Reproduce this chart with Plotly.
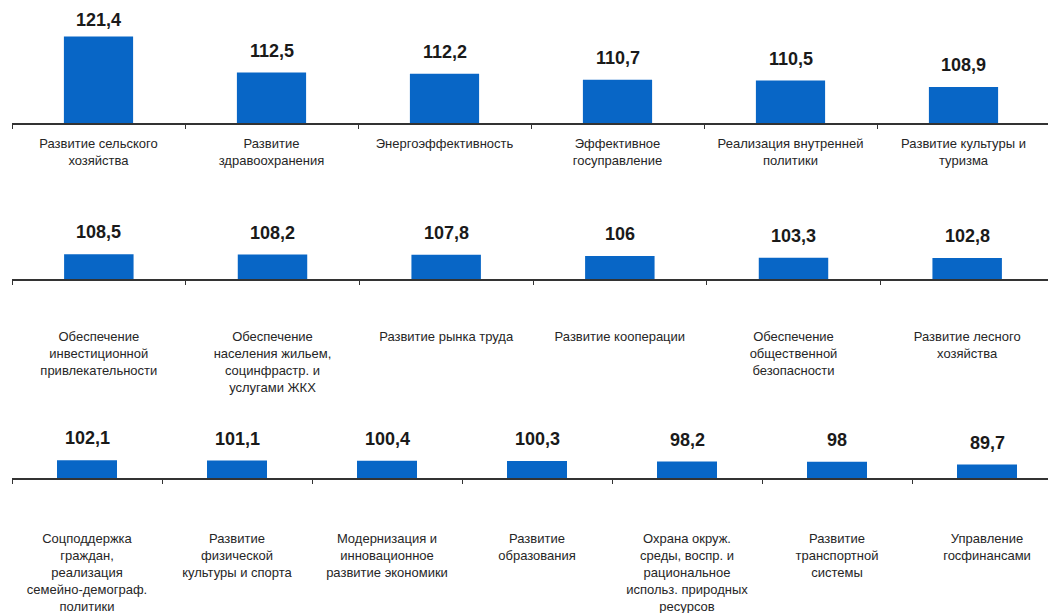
import plotly.graph_objects as go

W, H = 1056, 613
OFF = 8  # page body margin of the rendered html

# ---- data ----
row1_labels = ["Развитие сельского<br>хозяйства", "Развитие<br>здравоохранения", "Энергоэффективность",
               "Эффективное<br>госуправление", "Реализация внутренней<br>политики", "Развитие культуры и<br>туризма"]
row1_values = [121.4, 112.5, 112.2, 110.7, 110.5, 108.9]

row2_labels = ["Обеспечение<br>инвестиционной<br>привлекательности",
               "Обеспечение<br>населения жильем,<br>социнфрастр. и<br>услугами ЖКХ",
               "Развитие рынка труда", "Развитие кооперации",
               "Обеспечение<br>общественной<br>безопасности", "Развитие лесного<br>хозяйства"]
row2_values = [108.5, 108.2, 107.8, 106.0, 103.3, 102.8]

row3_labels = ["Соцподдержка<br>граждан,<br>реализация<br>семейно-демограф.<br>политики",
               "Развитие<br>физической<br>культуры и спорта",
               "Модернизация и<br>инновационное<br>развитие экономики",
               "Развитие<br>образования",
               "Охрана окруж.<br>среды, воспр. и<br>рациональное<br>использ. природных<br>ресурсов",
               "Развитие<br>транспортной<br>системы", "Управление<br>госфинансами"]
row3_values = [102.1, 101.1, 100.4, 100.3, 98.2, 98.0, 89.7]

BAR = "#0866C6"
FONT = "Liberation Sans, Arial, sans-serif"


def fx(px):
    return (px - OFF) / W


def fy(px):
    return 1 - (px - OFF) / H


rows = [
    # labels, values, x domain px, y domain px (top, baseline), y range, standoff
    (row1_labels, row1_values, (12, 1050), (20, 123), (100, 125.5), 8),
    (row2_labels, row2_values, (12, 1054), (229, 279), (70, 148.1), 45),
    (row3_labels, row3_values, (12, 1062), (438, 478), (50, 167.6), 48),
]

fig = go.Figure()
annotations = []
for i, (labels, values, xd, yd, yr, standoff) in enumerate(rows):
    n = i + 1
    xa = "x" if n == 1 else f"x{n}"
    ya = "y" if n == 1 else f"y{n}"
    fig.add_trace(go.Bar(x=labels, y=values, xaxis=xa, yaxis=ya, width=0.4,
                         marker=dict(color=BAR, line=dict(width=0)), showlegend=False,
                         hoverinfo="skip"))
    top, base = yd
    scale = (base - top) / (yr[1] - yr[0])
    for lab, v in zip(labels, values):
        bar_top = base - (v - yr[0]) * scale
        shift = min(10, bar_top - OFF - 24)  # keep the label inside the page
        annotations.append(dict(x=lab, y=v, xref=xa, yref=ya, yanchor="bottom", xanchor="center",
                                yshift=shift, showarrow=False,
                                text=f"{v:g}".replace(".", ","),
                                font=dict(family=FONT, size=18, color="#1a1a1a", weight="bold")))
    xkey = "xaxis" if n == 1 else f"xaxis{n}"
    ykey = "yaxis" if n == 1 else f"yaxis{n}"
    fig.layout[xkey] = dict(domain=[fx(xd[0]), fx(xd[1])], anchor=ya, type="category",
                            showline=True, linecolor="#333333", linewidth=1.5,
                            ticks="outside", tickson="boundaries", ticklen=4, tickcolor="#333333",
                            tickwidth=1.2, showgrid=False, zeroline=False, ticklabelstandoff=standoff,
                            tickfont=dict(family=FONT, size=13, color="#262626"), fixedrange=True)
    fig.layout[ykey] = dict(domain=[fy(yd[1]), fy(yd[0])], anchor=xa, range=list(yr),
                            visible=False, showgrid=False, zeroline=False, fixedrange=True)

fig.update_layout(width=W, height=H, margin=dict(l=0, r=0, t=0, b=0),
                  paper_bgcolor="white", plot_bgcolor="white",
                  annotations=annotations, bargap=0.6)

fig.write_html("out.html")
